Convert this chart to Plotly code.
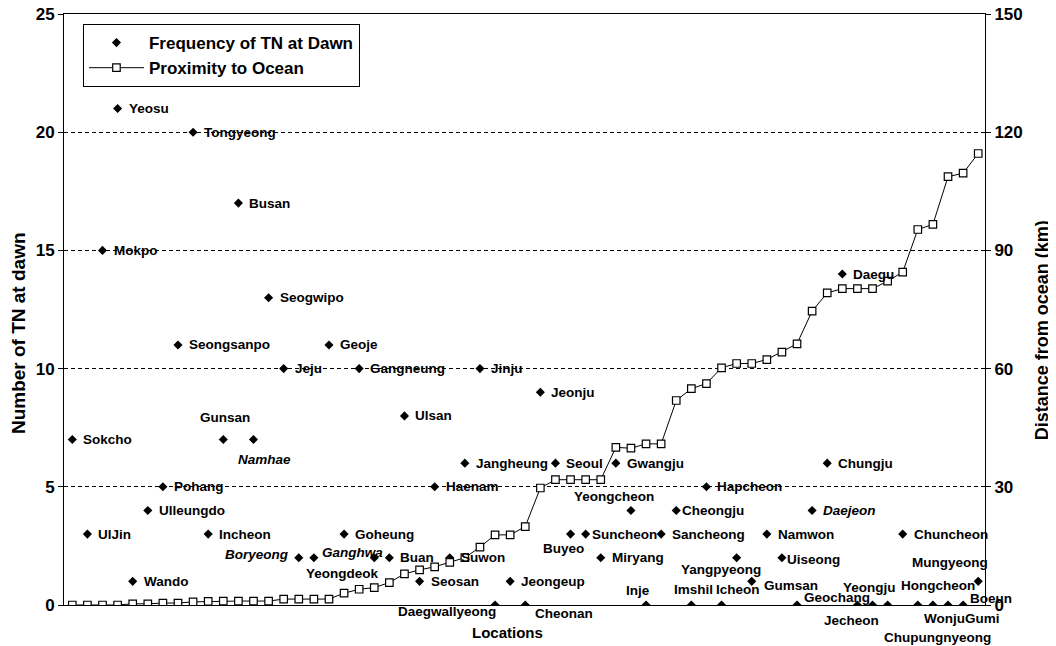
import plotly.graph_objects as go

# station names, ordered by distance from the ocean
locations = [
    "Sokcho", "UlJin", "Mokpo", "Yeosu", "Wando", "Ulleungdo", "Pohang", "Seongsanpo",
    "Tongyeong", "Incheon", "Gunsan", "Busan", "Namhae", "Seogwipo", "Jeju", "Boryeong",
    "Ganghwa", "Geoje", "Goheung", "Gangneung", "Yeongdeok", "Buan", "Ulsan", "Seosan",
    "Haenam", "Suwon", "Jangheung", "Jinju", "Daegwallyeong", "Jeongeup", "Cheonan", "Jeonju",
    "Seoul", "Buyeo", "Suncheon", "Miryang", "Gwangju", "Yeongcheon", "Inje", "Sancheong",
    "Cheongju", "Imshil", "Hapcheon", "Icheon", "Yangpyeong", "Gumsan", "Namwon", "Uiseong",
    "Geochang", "Daejeon", "Chungju", "Daegu", "Jecheon", "Yeongju", "Chupungnyeong", "Chuncheon",
    "Mungyeong", "Wonju", "Gumi", "Boeun", "Hongcheon",
]

tn_counts = [
    7, 3, 15, 21, 1, 4, 5, 11,
    20, 3, 7, 17, 7, 13, 10, 2,
    2, 11, 3, 10, 2, 2, 8, 1,
    5, 2, 6, 10, 0, 1, 0, 9,
    6, 3, 3, 2, 6, 4, 0, 3,
    4, 0, 5, 0, 2, 1, 3, 2,
    0, 4, 6, 14, 0, 0, 0, 3,
    0, 0, 0, 0, 1,
]

distance_km = [
    0, 0, 0, 0, 0.3, 0.3, 0.5, 0.5,
    0.8, 0.9, 1.0, 1.0, 1.0, 1.0, 1.5, 1.5,
    1.5, 1.5, 3.0, 4.0, 4.4, 5.7, 7.9, 8.9,
    9.7, 10.8, 12.0, 14.7, 17.8, 17.8, 19.9, 29.7,
    31.8, 31.8, 31.8, 31.8, 40.0, 39.8, 40.9, 40.9,
    51.9, 54.9, 56.2, 60.2, 61.3, 61.3, 62.3, 64.2,
    66.3, 74.6, 79.2, 80.3, 80.3, 80.3, 82.2, 84.5,
    95.3, 96.6, 108.7, 109.6, 114.6,
]

italic_names = {"Namhae", "Boryeong", "Ganghwa", "Daejeon"}

# label placement: (anchor, dx px, dy px down); default is right of the point
label_pos = {
    "Gunsan": ("center", 2, -22),
    "Namhae": ("center", 11, 20),
    "Boryeong": ("right", -8, -3),
    "Ganghwa": ("left", 6, -5),
    "Yeongdeok": ("center", -32, 16),
    "Daegwallyeong": ("right", 3, 6),
    "Cheonan": ("left", 8, 8),
    "Buyeo": ("center", -7, 14),
    "Suncheon": ("left", 4, 0),
    "Yeongcheon": ("center", -17, -14),
    "Inje": ("center", -8, -15),
    "Cheongju": ("left", 4, 0),
    "Imshil": ("center", 2, -16),
    "Icheon": ("center", 16, -16),
    "Yangpyeong": ("center", -16, 12),
    "Gumsan": ("left", 10, 4),
    "Uiseong": ("left", 3, 2),
    "Geochang": ("center", 40, -8),
    "Jecheon": ("center", -6, 15),
    "Yeongju": ("center", -3, -18),
    "Chupungnyeong": ("center", 50, 32),
    "Mungyeong": ("center", 32, -43),
    "Wonju": ("center", 12, 13),
    "Gumi": ("center", 34, 13),
    "Boeun": ("center", 28, -7),
    "Hongcheon": ("right", -1, 4),
}

FONT = "Liberation Sans, Arial, sans-serif"
idx = list(range(len(locations)))

fig = go.Figure()

fig.add_trace(go.Scatter(
    x=idx, y=tn_counts, mode="markers", name="Frequency of TN at Dawn",
    marker=dict(symbol="diamond", size=7, color="black"),
    yaxis="y",
))

fig.add_trace(go.Scatter(
    x=idx, y=distance_km, mode="lines+markers", name="Proximity to Ocean",
    line=dict(color="black", width=1),
    marker=dict(symbol="square", size=7.5, color="white", line=dict(color="black", width=1.2)),
    yaxis="y2",
))

annotations = []
for i, (name, v) in enumerate(zip(locations, tn_counts)):
    anchor, dx, dy = label_pos.get(name, ("left", 9, 0))
    txt = f"<i>{name}</i>" if name in italic_names else name
    annotations.append(dict(
        x=i, y=v, xref="x", yref="y", text=txt, showarrow=False,
        xanchor=anchor, yanchor="middle", xshift=dx, yshift=-dy,
        font=dict(size=13.5, color="black", family=FONT, weight="bold"),
    ))

# axis titles
annotations += [
    dict(text="Number of TN at dawn", xref="paper", yref="paper", x=-0.05, y=0.46,
         xanchor="center", yanchor="middle", textangle=-90, showarrow=False,
         font=dict(size=19, family=FONT, weight="bold")),
    dict(text="Distance from ocean (km)", xref="paper", yref="paper", x=1.062, y=0.465,
         xanchor="center", yanchor="middle", textangle=-90, showarrow=False,
         font=dict(size=18, family=FONT, weight="bold")),
    dict(text="Locations", xref="paper", yref="paper", x=0.482, y=-0.047,
         xanchor="center", yanchor="middle", showarrow=False,
         font=dict(size=15, family=FONT, weight="bold")),
]

fig.update_layout(
    width=1056, height=646,
    margin=dict(l=56, r=79, t=6, b=49, autoexpand=False),
    paper_bgcolor="white", plot_bgcolor="white",
    font=dict(family=FONT, size=14, color="black", weight="bold"),
    showlegend=True,
    legend=dict(
        x=0.0206, y=0.983, xanchor="left", yanchor="top",
        bordercolor="black", borderwidth=1, bgcolor="white",
        font=dict(size=17, family=FONT, weight="bold"),
        itemwidth=55, tracegroupgap=0,
    ),
    xaxis=dict(
        range=[-0.55, 60.45], showticklabels=False, ticks="", showgrid=False,
        zeroline=False, showline=True, linecolor="black", linewidth=1, mirror=True,
        automargin=False,
    ),
    yaxis=dict(
        range=[0, 25], dtick=5, ticks="outside", ticklen=5, tickcolor="black",
        showgrid=True, gridcolor="black", griddash="4px,3px", gridwidth=1,
        zeroline=False, showline=True, linecolor="black", linewidth=1,
        tickfont=dict(size=17, family=FONT, weight="bold"), automargin=False,
        ticklabeloverflow="allow",
    ),
    yaxis2=dict(
        range=[0, 150], dtick=30, overlaying="y", side="right",
        ticks="outside", ticklen=5, tickcolor="black", showgrid=False,
        zeroline=False, showline=True, linecolor="black", linewidth=1,
        tickfont=dict(size=17, family=FONT, weight="bold"), automargin=False,
        ticklabeloverflow="allow",
    ),
    annotations=annotations,
)

fig.write_html("out.html")
